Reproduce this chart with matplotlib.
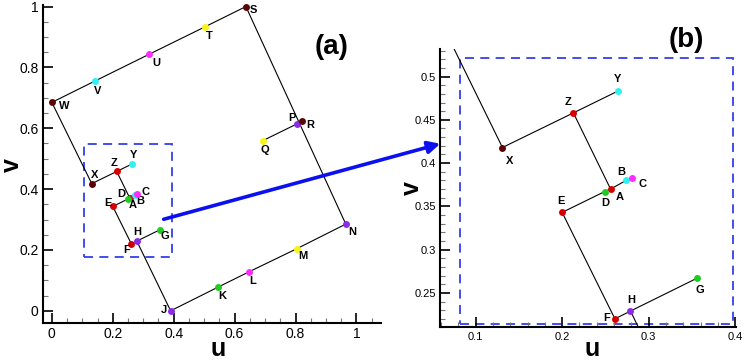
import matplotlib
matplotlib.use("Agg")
import matplotlib.pyplot as plt
from matplotlib.patches import Rectangle, FancyArrowPatch
from matplotlib.ticker import MultipleLocator, FormatStrFormatter

plt.rcParams['font.family'] = ['Liberation Sans', 'DejaVu Sans']

# points
names = ['A', 'B', 'C', 'D', 'E', 'F', 'G', 'H', 'J', 'K', 'L', 'M', 'N',
         'P', 'Q', 'R', 'S', 'T', 'U', 'V', 'W', 'X', 'Y', 'Z']
u = [0.256, 0.274, 0.281, 0.249, 0.200, 0.261, 0.356, 0.279, 0.390, 0.544, 0.647, 0.804, 0.965,
     0.804, 0.692, 0.822, 0.637, 0.504, 0.319, 0.141, 0.000, 0.131, 0.264, 0.213]
v = [0.370, 0.380, 0.383, 0.367, 0.343, 0.220, 0.267, 0.229, 0.000, 0.077, 0.128, 0.204, 0.285,
     0.614, 0.559, 0.625, 1.000, 0.934, 0.843, 0.755, 0.685, 0.418, 0.483, 0.458]
colors = ['red', 'cyan', 'magenta', 'green', 'red', 'red', 'green', 'purple', 'purple', 'green',
          'magenta', 'yellow', 'purple', 'purple', 'yellow', 'maroon', 'maroon', 'yellow',
          'magenta', 'cyan', 'maroon', 'maroon', 'cyan', 'red']

# polylines joining the points
paths = [['W', 'V', 'U', 'T', 'S', 'N', 'M', 'L', 'K', 'J', 'H'],
         ['W', 'X', 'Z', 'Y'],
         ['Z', 'A'],
         ['E', 'D', 'A', 'B', 'C'],
         ['E', 'F', 'H', 'G'],
         ['P', 'Q']]

# zoom window
box_a = (0.104, 0.177, 0.393, 0.547)
box_b = (0.082, 0.214, 0.398, 0.522)

palette = {'red': '#d60000', 'cyan': '#2ef2f2', 'magenta': '#ff2bff', 'green': '#1fcc1f',
           'purple': '#8b2be8', 'yellow': '#f5f51c', 'maroon': '#5a0505'}

# label offsets in pixels (dx right, dy down)
off_a = {'W': (12, 4), 'V': (3, 10), 'U': (7, 9), 'T': (4, 9), 'S': (8, 3), 'R': (8, 4),
         'P': (-5, -6), 'Q': (2, 9), 'N': (6, 8), 'M': (6, 7), 'L': (4, 9), 'K': (5, 9),
         'J': (-7, -1), 'X': (3, -9), 'Z': (-3, -8), 'Y': (1, -9), 'D': (-6, -5),
         'C': (8, -2), 'B': (5, 6), 'A': (3, 7), 'E': (-5, -3), 'H': (0, -9), 'G': (5, 6),
         'F': (-5, 6)}
off_b = {'Y': (0, -12), 'Z': (-5, -11), 'X': (7, 13), 'B': (-5, -8), 'C': (10, 6),
         'A': (9, 8), 'D': (1, 11), 'E': (-1, -11), 'F': (-8, -1), 'H': (1, -11),
         'G': (3, 12)}

idx = {n: i for i, n in enumerate(names)}

W, H = 748, 360
fig = plt.figure(figsize=(7.48, 3.6), dpi=100)
ax1 = fig.add_axes([0.0571, 0.102, 0.452, 0.884])
ax2 = fig.add_axes([0.588, 0.0903, 0.396, 0.774])


def draw(ax, offs, box, fs_tick):
    for p in paths:
        ax.plot([u[idx[n]] for n in p], [v[idx[n]] for n in p], color='black', lw=0.8, zorder=2)
    for n in names:
        i = idx[n]
        ax.plot(u[i], v[i], 'o', ms=5, color=palette[colors[i]], mec='none', zorder=3,
                clip_on=(ax is ax2))
        if n in offs:
            dx, dy = offs[n]
            ax.annotate(n, (u[i], v[i]), xytext=(dx, -dy), textcoords='offset pixels',
                        ha='center', va='center', fontsize=8, fontweight='bold')
    x0, y0, x1, y1 = box
    ax.add_patch(Rectangle((x0, y0), x1 - x0, y1 - y0, fill=False, ec='#3340ee', lw=1.3,
                           ls=(0, (5, 3.5)), zorder=1, clip_on=False))
    for s in ['top', 'right']:
        ax.spines[s].set_visible(False)
    for s in ['left', 'bottom']:
        ax.spines[s].set_linewidth(1.5)
    ax.tick_params(which='both', direction='in', labelsize=fs_tick, pad=3)
    ax.tick_params(which='major', length=7, width=1.2)
    ax.tick_params(which='minor', length=3.5, width=0.8, color='#777777')
    ax.xaxis.set_major_formatter(FormatStrFormatter('%g'))
    ax.yaxis.set_major_formatter(FormatStrFormatter('%g'))


draw(ax1, off_a, box_a, 10)
ax1.set_xlim(-0.03, 1.08)
ax1.set_ylim(-0.041, 1.005)
ax1.xaxis.set_major_locator(MultipleLocator(0.2))
ax1.xaxis.set_minor_locator(MultipleLocator(0.05))
ax1.yaxis.set_major_locator(MultipleLocator(0.2))
ax1.yaxis.set_minor_locator(MultipleLocator(0.05))

draw(ax2, off_b, box_b, 8)
ax2.set_xlim(0.0586, 0.401)
ax2.set_ylim(0.21, 0.532)
ax2.xaxis.set_major_locator(MultipleLocator(0.1))
ax2.xaxis.set_minor_locator(MultipleLocator(0.02))
ax2.yaxis.set_major_locator(MultipleLocator(0.05))
ax2.yaxis.set_minor_locator(MultipleLocator(0.01))

# axis titles and panel tags, placed by pixel position
lab = dict(fontsize=18, fontweight='bold', ha='center', va='center')
fig.text(218 / W, 1 - 349 / H, 'u', **lab)
fig.text(12 / W, 1 - 165 / H, 'v', rotation=90, **lab)
fig.text(592 / W, 1 - 349 / H, 'u', **lab)
fig.text(412 / W, 1 - 188 / H, 'v', rotation=90, **lab)
fig.text(332 / W, 1 - 47 / H, '(a)', fontsize=20, fontweight='bold', ha='center', va='center')
fig.text(686 / W, 1 - 40 / H, '(b)', fontsize=20, fontweight='bold', ha='center', va='center')

arrow = FancyArrowPatch((161 / W, 1 - 220 / H), (443 / W, 1 - 143 / H),
                        transform=fig.transFigure, arrowstyle='-|>', mutation_scale=18,
                        color='#0a10ee', lw=2.6)
fig.patches.append(arrow)

fig.savefig('out.png', dpi=100)
